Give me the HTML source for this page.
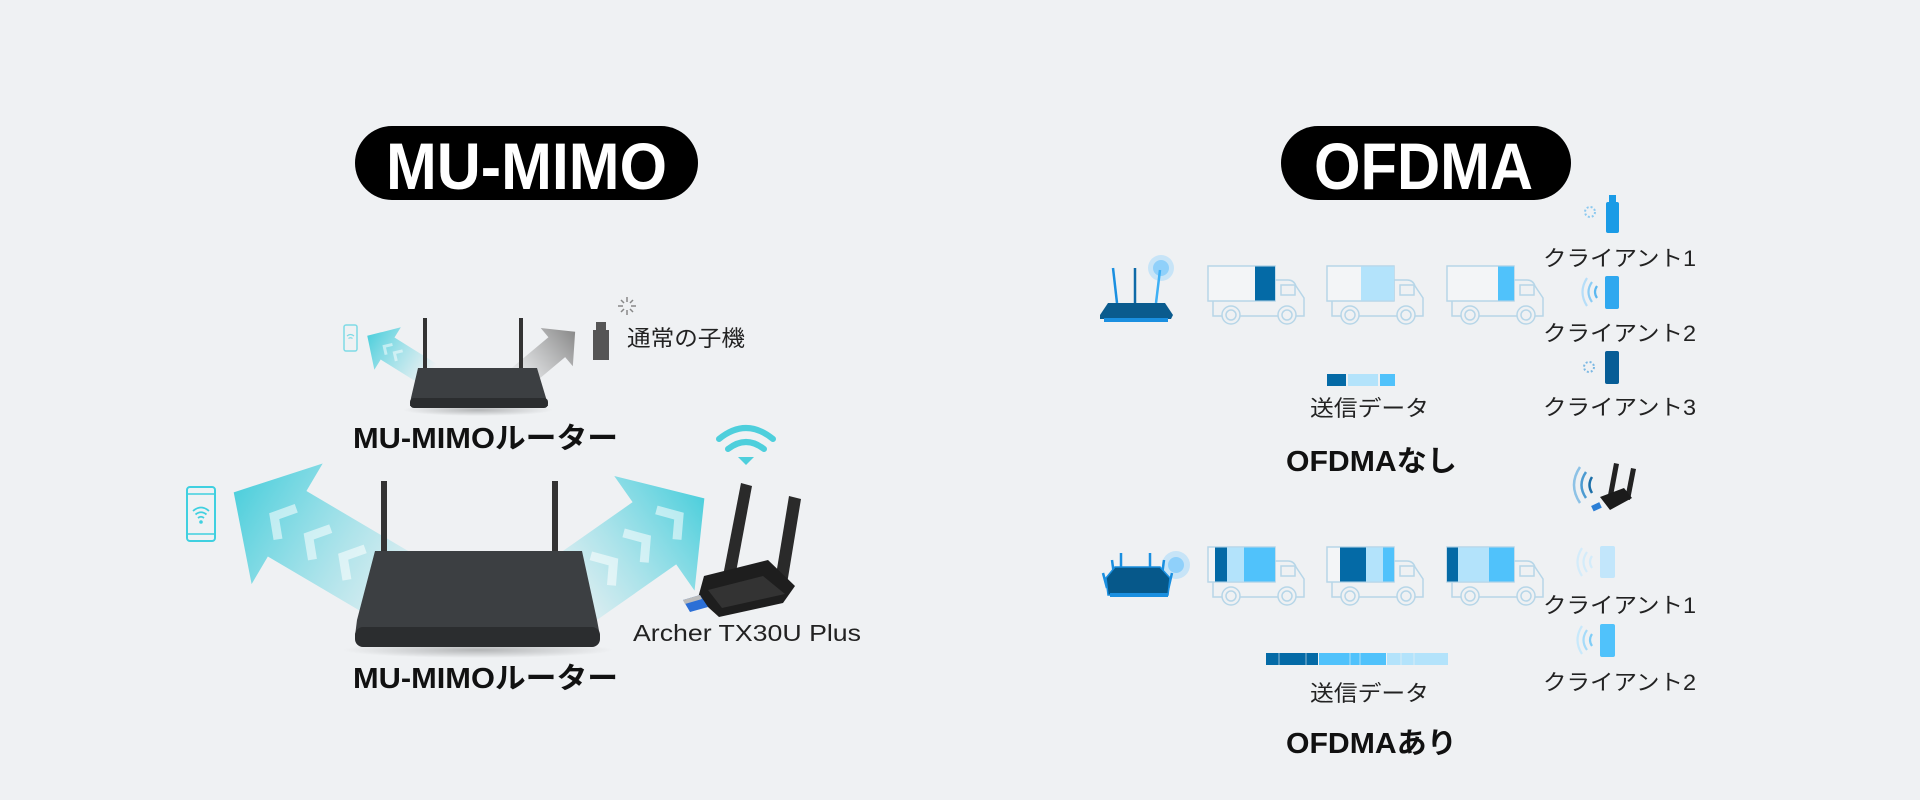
<!DOCTYPE html>
<html><head><meta charset="utf-8"><style>
html,body{margin:0;padding:0;background:#eff1f3;}
svg{display:block}
text{font-family:"Liberation Sans","Noto Sans CJK JP",sans-serif;}
</style></head><body>
<svg width="1920" height="800" viewBox="0 0 1920 800" xmlns="http://www.w3.org/2000/svg">
<defs>
<linearGradient id="cy" x1="0" y1="0" x2="1" y2="0">
<stop offset="0" stop-color="#5fd3e0" stop-opacity="0"/>
<stop offset="0.45" stop-color="#5fd3e0" stop-opacity="0.45"/>
<stop offset="1" stop-color="#4ecfdc" stop-opacity="1"/>
</linearGradient>
<linearGradient id="gr" x1="0" y1="0" x2="1" y2="0">
<stop offset="0" stop-color="#999" stop-opacity="0.1"/>
<stop offset="1" stop-color="#8a8a8a" stop-opacity="1"/>
</linearGradient>
<radialGradient id="sh"><stop offset="0" stop-color="#000" stop-opacity="0.25"/><stop offset="1" stop-color="#000" stop-opacity="0"/></radialGradient>
<g id="truck">
<rect x="0" y="0" width="67" height="35" fill="#f3f5f7" stroke="#b7d6e8" stroke-width="1.5"/>
<path d="M5 35 V50 H96 V32 L88 20 Q86 14 80 14 H67 V35" fill="none" stroke="#b7d6e8" stroke-width="1.5"/>
<rect x="73" y="19" width="14" height="10" fill="none" stroke="#b7d6e8" stroke-width="1.5"/>
<circle cx="23" cy="49" r="9" fill="#eff1f3" stroke="#b7d6e8" stroke-width="1.5"/>
<circle cx="23" cy="49" r="5" fill="none" stroke="#b7d6e8" stroke-width="1.5"/>
<circle cx="79" cy="49" r="9" fill="#eff1f3" stroke="#b7d6e8" stroke-width="1.5"/>
<circle cx="79" cy="49" r="5" fill="none" stroke="#b7d6e8" stroke-width="1.5"/>
</g>
</defs>

<!-- pills -->
<rect x="355" y="126" width="343" height="74" rx="37" fill="#000"/>
<text x="386" y="189" font-size="66" font-weight="700" fill="#fff" textLength="281" lengthAdjust="spacingAndGlyphs">MU-MIMO</text>
<rect x="1281" y="126" width="290" height="74" rx="37" fill="#000"/>
<text x="1314" y="189" font-size="66" font-weight="700" fill="#fff" textLength="219" lengthAdjust="spacingAndGlyphs">OFDMA</text>

<!-- small arrows -->
<g transform="translate(430,375) rotate(212)">
<polygon points="0,-13 50,-13 50,-25 74,0 50,25 50,13 0,13" fill="url(#cy)"/>
<g fill="none" stroke="#fff" stroke-opacity="0.5" stroke-width="3"><polyline points="36,-6 42,0 36,6"/><polyline points="48,-6 54,0 48,6"/></g>
</g>
<g transform="translate(520,378) rotate(-40)">
<polygon points="0,-13 48,-13 48,-25 72,0 48,25 48,13 0,13" fill="url(#gr)"/>
</g>
<!-- small router -->
<rect x="423" y="318" width="4" height="52" fill="#333"/>
<rect x="519" y="318" width="4" height="52" fill="#333"/>
<ellipse cx="478" cy="410" rx="75" ry="6" fill="url(#sh)"/>
<polygon points="418,368 537,368 546,398 548,406 410,406 411,398" fill="#3c3f42"/>
<rect x="410" y="398" width="138" height="10" rx="4" fill="#2b2d2f"/>
<!-- small phone -->
<rect x="344" y="325" width="13" height="26" rx="2" fill="none" stroke="#7fdbe6" stroke-width="1.5"/>
<path d="M347 336 q3.5 -3 7 0 M348.5 338.5 q2 -1.5 4 0" stroke="#7fdbe6" stroke-width="1.2" fill="none"/>
<!-- small dongle + spinner -->
<rect x="593" y="330" width="16" height="30" fill="#555"/>
<rect x="596" y="322" width="10" height="9" fill="#555"/>
<g stroke="#888" stroke-width="1.5">
<line x1="627" y1="297" x2="627" y2="302"/><line x1="627" y1="310" x2="627" y2="315"/>
<line x1="618" y1="306" x2="623" y2="306"/><line x1="631" y1="306" x2="636" y2="306"/>
<line x1="621" y1="300" x2="624" y2="303"/><line x1="630" y1="309" x2="633" y2="312"/>
<line x1="633" y1="300" x2="630" y2="303"/><line x1="624" y1="309" x2="621" y2="312"/>
</g>
<text x="627" y="346" font-size="22" fill="#222" textLength="118" lengthAdjust="spacingAndGlyphs">通常の子機</text>
<text x="353" y="448" font-size="29" font-weight="700" fill="#111" textLength="265" lengthAdjust="spacingAndGlyphs">MU-MIMOルーター</text>

<!-- big arrows -->
<g transform="translate(425,605) rotate(210.5)">
<polygon points="0,-38 160,-38 160,-70 222,0 160,70 160,38 0,38" fill="url(#cy)"/>
<g fill="none" stroke="#fff" stroke-opacity="0.55" stroke-width="9">
<polyline points="80,-18 95,0 80,18"/><polyline points="120,-18 135,0 120,18"/><polyline points="160,-18 175,0 160,18"/>
</g>
</g>
<g transform="translate(552,605) rotate(-35)">
<polygon points="0,-38 125,-38 125,-70 186,0 125,70 125,38 0,38" fill="url(#cy)"/>
<g fill="none" stroke="#fff" stroke-opacity="0.55" stroke-width="9">
<polyline points="60,-18 75,0 60,18"/><polyline points="100,-18 115,0 100,18"/><polyline points="140,-18 155,0 140,18"/>
</g>
</g>
<!-- big router -->
<rect x="381" y="481" width="6" height="75" fill="#333"/>
<rect x="552" y="481" width="6" height="75" fill="#333"/>
<ellipse cx="478" cy="650" rx="135" ry="8" fill="url(#sh)"/>
<polygon points="375,551 582,551 597,620 600,636 355,636 357,620" fill="#3c3f42"/>
<rect x="355" y="627" width="245" height="20" rx="8" fill="#2b2d2f"/>
<!-- big phone -->
<rect x="187" y="487" width="28" height="54" rx="3" fill="none" stroke="#3fd0e0" stroke-width="2"/>
<line x1="187" y1="494" x2="215" y2="494" stroke="#3fd0e0" stroke-width="1.5"/>
<line x1="187" y1="534" x2="215" y2="534" stroke="#3fd0e0" stroke-width="1.5"/>
<path d="M193 511 q8 -7 16 0 M195.5 514.5 q5.5 -4.5 11 0 M198 518 q3 -2.5 6 0" stroke="#3fd0e0" stroke-width="1.8" fill="none"/>
<circle cx="201" cy="522" r="1.8" fill="#3fd0e0"/>
<!-- wifi icon -->
<g fill="none" stroke="#4ecfdc" stroke-width="6" stroke-linecap="round">
<path d="M719 439 q27 -22 54 0"/><path d="M728 449 q18 -14 36 0"/>
</g>
<polygon points="738,457 754,457 746,465" fill="#4ecfdc"/>
<!-- big dongle -->
<polygon points="741,483 752,486 734,583 722,581" fill="#2a2a2a"/>
<polygon points="789,496 801,499 786,590 774,587" fill="#2a2a2a"/>
<polygon points="704,576 768,560 795,586 783,603 719,617 698,598" fill="#1e1e1e"/>
<polygon points="708,590 763,576 785,594 722,608" fill="#333"/>
<polygon points="683,600 700,595 708,607 690,612" fill="#2c6fd6"/>
<polygon points="683,600 700,595 702,599 685,604" fill="#bbb"/>
<text x="633" y="641" font-size="23" fill="#222" textLength="228" lengthAdjust="spacingAndGlyphs">Archer TX30U Plus</text>
<text x="353" y="688" font-size="29" font-weight="700" fill="#111" textLength="265" lengthAdjust="spacingAndGlyphs">MU-MIMOルーター</text>

<!-- OFDMA row 1 -->
<circle cx="1161" cy="268" r="13" fill="#9fd8fb" opacity="0.5"/>
<circle cx="1161" cy="268" r="8" fill="#8fd0fa"/>
<line x1="1113" y1="268" x2="1117" y2="303" stroke="#1a8fe0" stroke-width="2.5"/>
<line x1="1135" y1="268" x2="1135" y2="303" stroke="#0e6aa8" stroke-width="2.5"/>
<line x1="1160" y1="270" x2="1156" y2="303" stroke="#3eb0f5" stroke-width="2.5"/>
<polygon points="1108,303 1165,303 1173,315 1171,319 1100,319 1100,315" fill="#0a5b8e"/>
<rect x="1104" y="318" width="64" height="4" fill="#1a8fe0"/>

<g transform="translate(1208,266)"><use href="#truck"/><rect x="47" y="0.5" width="20" height="34" fill="#046aa6"/></g>
<g transform="translate(1327,266)"><use href="#truck"/><rect x="34" y="0.5" width="33" height="34" fill="#b3e3fb"/></g>
<g transform="translate(1447,266)"><use href="#truck"/><rect x="51" y="0.5" width="16" height="34" fill="#50c2fb"/></g>

<!-- clients row1 -->
<rect x="1606" y="202" width="13" height="31" rx="2" fill="#1a9be6"/>
<rect x="1609" y="195" width="7" height="8" fill="#1a9be6"/>
<circle cx="1590" cy="212" r="5" fill="none" stroke="#8cc9ef" stroke-width="2" stroke-dasharray="2 2"/>
<text x="1543" y="266" font-size="22" fill="#222" textLength="153" lengthAdjust="spacingAndGlyphs">クライアント1</text>
<rect x="1605" y="276" width="14" height="33" rx="2" fill="#2fa8ef"/>
<g fill="none" stroke-width="2.2" stroke="#5cb8f0"><path d="M1597 286 q-4 6 0 12"/><path d="M1592 282 q-7 10 0 20" stroke="#8ccdf5"/><path d="M1587 278 q-9 14 0 28" stroke="#b6def8"/></g>
<text x="1543" y="341" font-size="22" fill="#222" textLength="153" lengthAdjust="spacingAndGlyphs">クライアント2</text>
<rect x="1605" y="351" width="14" height="33" rx="2" fill="#075d96"/>
<circle cx="1589" cy="367" r="5" fill="none" stroke="#7bb8e3" stroke-width="2" stroke-dasharray="2 2"/>
<text x="1543" y="415" font-size="22" fill="#222" textLength="153" lengthAdjust="spacingAndGlyphs">クライアント3</text>

<rect x="1327" y="374" width="19" height="12" fill="#046aa6"/>
<rect x="1348" y="374" width="30" height="12" fill="#b3e3fb"/>
<rect x="1380" y="374" width="15" height="12" fill="#50c2fb"/>
<text x="1310" y="416" font-size="22" fill="#222" textLength="119" lengthAdjust="spacingAndGlyphs">送信データ</text>
<text x="1286" y="471" font-size="29" font-weight="700" fill="#111" textLength="171" lengthAdjust="spacingAndGlyphs">OFDMAなし</text>

<!-- dongle with waves -->
<g fill="none" stroke-width="2.5"><path d="M1592 477 q-5 8 0 16" stroke="#1c6fa8"/><path d="M1586 472 q-9 13 0 26" stroke="#4d9bd1"/><path d="M1580 467 q-12 18 0 36" stroke="#8dc2e6"/></g>
<polygon points="1614,463 1619,464 1613,496 1608,495" fill="#222"/>
<polygon points="1631,468 1636,469 1630,500 1625,499" fill="#222"/>
<polygon points="1600,497 1624,488 1632,498 1610,510" fill="#1b1b1b"/>
<rect x="1592" y="504" width="9" height="6" fill="#2c7fd6" transform="rotate(-25 1596 507)"/>

<!-- OFDMA row 2 -->
<circle cx="1176" cy="565" r="14" fill="#9fd8fb" opacity="0.5"/>
<circle cx="1176" cy="565" r="8" fill="#8fd0fa"/>
<g stroke="#1a8fe0" stroke-width="2.5">
<line x1="1103" y1="573" x2="1107" y2="588"/><line x1="1121" y1="553" x2="1121" y2="572"/>
<line x1="1150" y1="553" x2="1150" y2="572"/><line x1="1164" y1="560" x2="1162" y2="575"/>
<line x1="1112" y1="560" x2="1114" y2="575"/><line x1="1172" y1="573" x2="1168" y2="590"/>
</g>
<polygon points="1115,567 1160,567 1170,578 1168,595 1108,595 1106,578" fill="#06588a" stroke="#1a8fe0" stroke-width="1.5"/>
<rect x="1110" y="593" width="58" height="4" fill="#1a8fe0"/>

<g transform="translate(1208,547)"><use href="#truck"/><rect x="7" y="0.5" width="12" height="34" fill="#046aa6"/><rect x="19" y="0.5" width="17" height="34" fill="#b3e3fb"/><rect x="36" y="0.5" width="31" height="34" fill="#50c2fb"/></g>
<g transform="translate(1327,547)"><use href="#truck"/><rect x="13" y="0.5" width="26" height="34" fill="#046aa6"/><rect x="39" y="0.5" width="17" height="34" fill="#b3e3fb"/><rect x="56" y="0.5" width="11" height="34" fill="#50c2fb"/></g>
<g transform="translate(1447,547)"><use href="#truck"/><rect x="0" y="0.5" width="11" height="34" fill="#046aa6"/><rect x="11" y="0.5" width="31" height="34" fill="#b3e3fb"/><rect x="42" y="0.5" width="25" height="34" fill="#50c2fb"/></g>

<rect x="1600" y="546" width="15" height="32" rx="2" fill="#c2e6fb"/>
<g fill="none" stroke-width="2.2" stroke="#d4ecfa"><path d="M1592 556 q-4 6 0 12"/><path d="M1587 552 q-7 10 0 20"/><path d="M1582 548 q-9 14 0 28"/></g>
<text x="1543" y="613" font-size="22" fill="#222" textLength="153" lengthAdjust="spacingAndGlyphs">クライアント1</text>
<rect x="1600" y="624" width="15" height="33" rx="2" fill="#50c2fb"/>
<g fill="none" stroke-width="2.2" stroke="#7fcdf7"><path d="M1592 634 q-4 6 0 12"/><path d="M1587 630 q-7 10 0 20" stroke="#a6dbf9"/><path d="M1582 626 q-9 14 0 28" stroke="#c8e9fb"/></g>
<text x="1543" y="690" font-size="22" fill="#222" textLength="153" lengthAdjust="spacingAndGlyphs">クライアント2</text>

<rect x="1266" y="653" width="52" height="12" fill="#046aa6"/>
<rect x="1319" y="653" width="67" height="12" fill="#50c2fb"/>
<rect x="1387" y="653" width="61" height="12" fill="#b3e3fb"/>
<g stroke="#eff1f3" stroke-width="1" opacity="0.6"><line x1="1279" y1="653" x2="1279" y2="665"/><line x1="1306" y1="653" x2="1306" y2="665"/><line x1="1350" y1="653" x2="1350" y2="665"/><line x1="1360" y1="653" x2="1360" y2="665"/><line x1="1401" y1="653" x2="1401" y2="665"/><line x1="1414" y1="653" x2="1414" y2="665"/></g>
<text x="1310" y="701" font-size="22" fill="#222" textLength="119" lengthAdjust="spacingAndGlyphs">送信データ</text>
<text x="1286" y="753" font-size="29" font-weight="700" fill="#111" textLength="171" lengthAdjust="spacingAndGlyphs">OFDMAあり</text>
</svg>
</body></html>
